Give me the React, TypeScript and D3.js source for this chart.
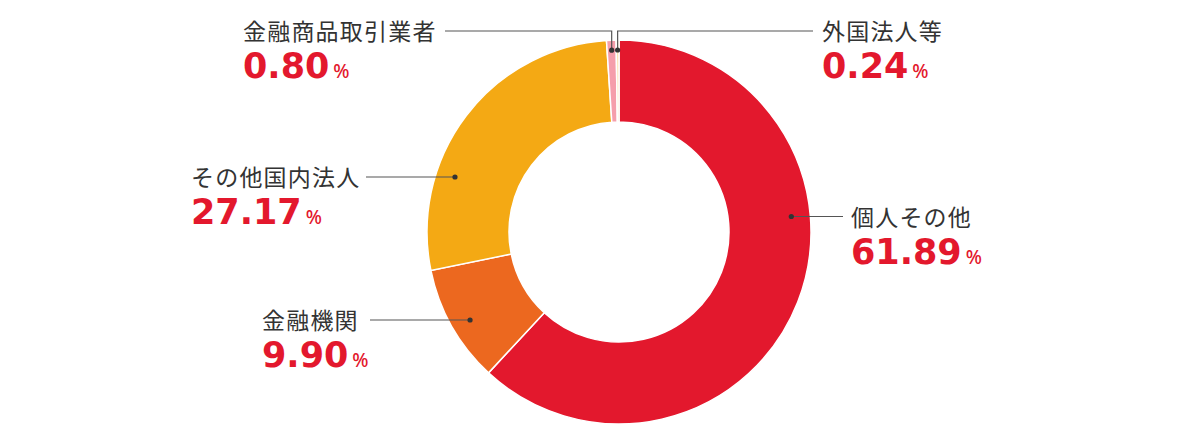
import * as d3 from "d3";
import * as React from "react";

// shareholder composition (%), clockwise from 12 o'clock
const categories = ["個人その他", "金融機関", "その他国内法人", "金融商品取引業者", "外国法人等"];
const shares = [61.89, 9.9, 27.17, 0.8, 0.24];
const shareLabels = ["61.89", "9.90", "27.17", "0.80", "0.24"];

const colors = ["#e3182d", "#ec681f", "#f4a914", "#f59eab", "#fbe2ae"];

// label placement (layout only)
type LabelLayout = {
  textX: number;
  lineY: number;
  lineX: number; // free end of the leader line
  mode: "ring" | "top";
};
const layout: LabelLayout[] = [
  { textX: 851, lineY: 216.5, lineX: 843, mode: "ring" },
  { textX: 262, lineY: 320, lineX: 370, mode: "ring" },
  { textX: 191, lineY: 177, lineX: 366, mode: "ring" },
  { textX: 243, lineY: 31, lineX: 445, mode: "top" },
  { textX: 822, lineY: 31, lineX: 813, mode: "top" },
];

const W = 1200;
const H = 440;
const cx = 619;
const cy = 232;
const outerR = 192;
const innerR = 110;
const dotR = 173;
const topDotR = 182;

const App: React.FC = () => {
  const pie = d3
    .pie<number>()
    .sort(null)
    .value((d) => d)
    .startAngle(0)
    .endAngle(2 * Math.PI);
  const arcs = pie(shares);
  const arc = d3.arc<d3.PieArcDatum<number>>().innerRadius(innerR).outerRadius(outerR);

  return (
    <svg
      width={W}
      height={H}
      style={{ position: "absolute", left: 0, top: 0, background: "#fff" }}
    >
      <g transform={`translate(${cx},${cy})`}>
        {arcs.map((a, i) => (
          <path key={i} d={arc(a) || ""} fill={colors[i]} stroke="#fff" strokeWidth={1.5} />
        ))}
      </g>
      {arcs.map((a, i) => {
        const l = layout[i];
        let dx: number;
        let dy: number;
        if (l.mode === "top") {
          const mid = (a.startAngle + a.endAngle) / 2;
          dx = cx + topDotR * Math.sin(mid);
          dy = cy - topDotR * Math.cos(mid);
        } else {
          const off = l.lineY - cy;
          const side = l.textX > cx ? 1 : -1;
          dx = cx + side * Math.sqrt(dotR * dotR - off * off);
          dy = l.lineY;
        }
        const pts =
          l.mode === "top"
            ? `${dx},${dy} ${dx},${l.lineY} ${l.lineX},${l.lineY}`
            : `${dx},${dy} ${l.lineX},${l.lineY}`;
        return (
          <g key={i}>
            <polyline points={pts} fill="none" stroke="#555" strokeWidth={1.2} />
            <circle cx={dx} cy={dy} r={2.6} fill="#333" />
            <text
              x={l.textX}
              y={l.lineY + 9}
              fontFamily="'Noto Sans CJK JP', sans-serif"
              fontSize={23}
              letterSpacing={1.2}
              fill="#333"
            >
              {categories[i]}
            </text>
            <text
              x={l.textX}
              y={l.lineY + 47}
              fontFamily="'DejaVu Sans', sans-serif"
              fontWeight={700}
              fontSize={35}
              fill="#e3182d"
            >
              {shareLabels[i]}
              <tspan dx={4} fontSize={19} fontFamily="'Noto Sans', sans-serif" fontWeight={500}>
                %
              </tspan>
            </text>
          </g>
        );
      })}
    </svg>
  );
};

export default App;
